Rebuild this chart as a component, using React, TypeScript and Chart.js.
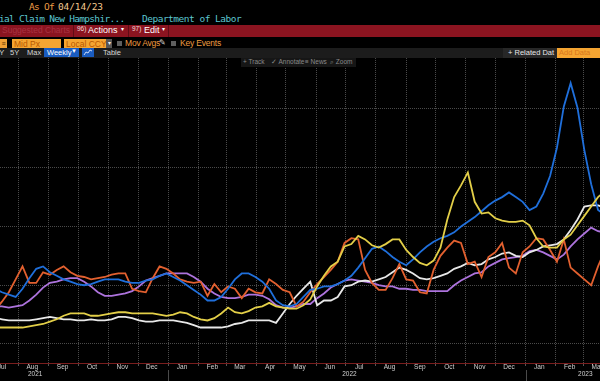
import React, { useEffect, useRef } from "react";
import { Chart, registerables } from "chart.js";

Chart.register(...registerables);

// ---------- data ----------
const firstWeek = "2021-07-08"; // weekly observations, one every 7 days
const viewStart = "2021-07-13";
const viewEnd = "2023-03-18";
const firstMonth = "2021-07-01";
const monthNames = ["Jul", "Aug", "Sep", "Oct", "Nov", "Dec", "Jan", "Feb", "Mar", "Apr", "May", "Jun", "Jul", "Aug", "Sep", "Oct", "Nov", "Dec", "Jan", "Feb", "Mar", "Apr"];
const yearNames = ["2021", "2022", "2023"];
const yearLabelDates = ["2021-08-18", "2022-07-05", "2023-03-03"];
const yearBreaks = ["2022-01-01", "2023-01-01"];
const gridValues = [50, 100, 150, 200, 250];
const yMin = 33.8;
const yMax = 293.4;

const blueSeries = [97, 94, 92, 90, 97, 106, 114, 116, 111, 108, 105, 103, 101, 100, 101, 103, 105, 105, 105, 103, 102, 102, 104, 105, 108, 110, 107, 104, 100, 96, 92, 87, 87, 90, 97, 105, 110, 110, 107, 103, 97, 87, 83, 82, 84, 90, 96, 97, 99, 99, 101, 104, 108, 115, 123, 131, 133, 129, 124, 120, 117, 122, 128, 133, 137, 140, 142, 145, 150, 154, 158, 163, 168, 172, 175, 179, 175, 171, 164, 167, 178, 193, 217, 252, 272, 251, 215, 186, 164, 160];
const orangeSeries = [79, 86, 94, 105, 116, 102, 102, 111, 109, 113, 116, 111, 108, 107, 105, 106, 107, 109, 110, 110, 97, 95, 94, 106, 116, 114, 110, 105, 103, 102, 103, 91, 101, 94, 99, 97, 89, 97, 94, 93, 105, 101, 96, 94, 82, 86, 94, 101, 107, 113, 120, 136, 140, 139, 113, 102, 96, 96, 106, 118, 105, 104, 94, 93, 113, 125, 132, 138, 136, 118, 120, 107, 124, 128, 136, 115, 110, 128, 133, 140, 139, 130, 120, 139, 115, 110, 105, 100, 116, 130];
const yellowSeries = [64, 64, 64, 64, 64, 65, 66, 67, 69, 71, 74, 76, 76, 76, 74, 74, 75, 76, 77, 77, 76, 76, 76, 76, 75, 74, 75, 77, 76, 73, 71, 70, 72, 76, 81, 77, 76, 78, 81, 82, 85, 82, 81, 80, 80, 83, 88, 99, 108, 116, 120, 133, 135, 142, 139, 134, 132, 135, 139, 139, 130, 124, 119, 117, 121, 132, 156, 175, 185, 196, 171, 161, 162, 157, 155, 154, 154, 155, 151, 140, 133, 132, 132, 139, 143, 151, 159, 167, 175, 180];
const whiteSeries = [72, 71, 70, 70, 70, 70, 71, 72, 73, 72, 71, 71, 70, 70, 71, 70, 70, 71, 73, 73, 72, 70, 69, 69, 70, 70, 70, 69, 68, 66, 64, 64, 64, 64, 65, 67, 68, 70, 70, 70, 70, 68, 76, 84, 91, 97, 103, 83, 87, 87, 90, 99, 100, 103, 104, 103, 105, 107, 111, 115, 113, 110, 106, 105, 106, 108, 110, 114, 116, 119, 117, 118, 122, 124, 127, 128, 125, 124, 128, 130, 133, 134, 135, 139, 147, 156, 167, 168, 168, 166];
const purpleSeries = [82, 82, 81, 82, 83, 87, 92, 98, 102, 103, 105, 106, 106, 103, 99, 94, 91, 91, 92, 93, 95, 99, 104, 106, 108, 110, 110, 110, 110, 107, 103, 97, 93, 90, 89, 89, 90, 92, 92, 91, 88, 83, 81, 81, 82, 84, 84, 89, 93, 98, 101, 104, 105, 104, 103, 102, 100, 99, 99, 97, 97, 96, 96, 95, 95, 95, 95, 100, 104, 107, 110, 111, 116, 119, 122, 123, 124, 125, 129, 130, 128, 125, 122, 126, 133, 139, 144, 149, 146, 145];

// ---------- helpers ----------
const DAY = 86400000;
const origin = Date.parse(firstMonth);
const dayOf = (s: string) => (Date.parse(s) - origin) / DAY;
const monthDay = (i: number, d: number) => {
  const o = new Date(origin);
  return (Date.UTC(o.getUTCFullYear(), o.getUTCMonth() + i, d) - origin) / DAY;
};
const toPoints = (arr: number[]) => {
  const start = dayOf(firstWeek);
  return arr.map((v, i) => ({ x: start + 7 * i, y: v }));
};

const mono = '"DejaVu Sans Mono", "Liberation Mono", monospace';
const sans = '"Liberation Sans", Arial, sans-serif';

const axisLabelPlugin = {
  id: "bbgAxisLabels",
  afterDraw(chart: any) {
    const { ctx, chartArea, scales } = chart;
    const xs = scales.x;
    const base = chartArea.bottom;
    ctx.save();
    ctx.fillStyle = "#d0d0d0";
    ctx.font = `6.5px ${sans}`;
    ctx.textAlign = "center";
    ctx.textBaseline = "middle";
    monthNames.forEach((name, i) => {
      ctx.fillText(name, xs.getPixelForValue(monthDay(i, 15)), base + 4.5);
    });
    yearNames.forEach((name, i) => {
      ctx.fillText(name, xs.getPixelForValue(dayOf(yearLabelDates[i])), base + 11.5);
    });
    ctx.strokeStyle = "#4a4a4a";
    ctx.lineWidth = 1;
    yearBreaks.forEach((d) => {
      const px = Math.round(xs.getPixelForValue(dayOf(d))) + 0.5;
      ctx.beginPath();
      ctx.moveTo(px, base + 7);
      ctx.lineTo(px, chart.height);
      ctx.stroke();
    });
    ctx.restore();
  },
};

function ChartCanvas() {
  const ref = useRef<HTMLCanvasElement | null>(null);
  useEffect(() => {
    if (!ref.current) return;
    const xMin = dayOf(viewStart);
    const xMax = dayOf(viewEnd);
    const monthStarts: number[] = [];
    for (let i = 0; i <= monthNames.length; i++) {
      const v = monthDay(i, 1);
      if (v > xMin && v < xMax) monthStarts.push(v);
    }
    const mk = (label: string, data: number[], color: string) => ({
      label,
      data: toPoints(data),
      borderColor: color,
      backgroundColor: color,
      borderWidth: 1.8,
      pointRadius: 0,
      tension: 0,
      fill: false,
    });
    const chart = new Chart(ref.current, {
      type: "line",
      data: {
        datasets: [
          mk("Yellow", yellowSeries, "#e3cf48"),
          mk("Blue", blueSeries, "#1f6fdb"),
          mk("Orange", orangeSeries, "#e2602f"),
          mk("White", whiteSeries, "#e8e8e8"),
          mk("Purple", purpleSeries, "#ad73dd"),
        ],
      },
      options: {
        animation: false,
        responsive: false,
        maintainAspectRatio: false,
        devicePixelRatio: 1,
        layout: { padding: { left: 0, right: 0, top: 0, bottom: 15 } },
        plugins: { legend: { display: false }, tooltip: { enabled: false } },
        scales: {
          x: {
            type: "linear",
            min: xMin,
            max: xMax,
            position: "bottom",
            afterBuildTicks: (s: any) => {
              s.ticks = monthStarts.map((v) => ({ value: v }));
            },
            ticks: { display: false },
            grid: { color: "#4a4a4a", lineWidth: 1, drawTicks: true, tickLength: 3, tickColor: "#555" },
            border: { display: true, color: "#7a1e1e", width: 1, dash: [1, 1] },
          },
          y: {
            type: "linear",
            min: yMin,
            max: yMax,
            position: "right",
            afterBuildTicks: (s: any) => {
              s.ticks = gridValues.map((v) => ({ value: v }));
            },
            ticks: { display: false },
            grid: { color: "#4a4a4a", lineWidth: 1, drawTicks: false },
            border: { display: false, dash: [1, 1] },
          },
        },
      },
      plugins: [axisLabelPlugin],
    } as any);
    return () => chart.destroy();
  }, []);
  return (
    <canvas
      ref={ref}
      width={600}
      height={323}
      style={{ position: "absolute", left: 0, top: 58, width: 600, height: 323, display: "block" }}
    />
  );
}

const abs = (s: React.CSSProperties): React.CSSProperties => ({ position: "absolute", whiteSpace: "pre", ...s });

export default function App() {
  return (
    <div style={{ position: "fixed", left: 0, top: 0, width: 600, height: 381, background: "#000", overflow: "hidden" }}>
      <ChartCanvas />

      {/* title lines */}
      <div style={abs({ left: 29, top: 1, font: `9.5px ${mono}`, lineHeight: "11px", color: "#ee9c45", letterSpacing: "-0.7px" })}>As Of</div>
      <div style={abs({ left: 58, top: 1, font: `9.5px ${mono}`, lineHeight: "11px", color: "#f3c88e", letterSpacing: "-0.1px" })}>04/14/23</div>
      <div style={abs({ left: -1, top: 13, font: `9.5px ${mono}`, lineHeight: "11px", color: "#5cc6d0", letterSpacing: "-0.7px" })}>ial Claim New Hampshir...</div>
      <div style={abs({ left: 142, top: 13, font: `9.5px ${mono}`, lineHeight: "11px", color: "#5cc6d0", letterSpacing: "-0.5px" })}>Department of Labor</div>

      {/* red band */}
      <div style={abs({ left: 0, top: 25, width: 600, height: 12, background: "#8b1420" })} />
      <div style={abs({ left: 2, top: 25, height: 12, lineHeight: "12px", font: `8.5px ${sans}`, color: "#a83240" })}>Suggested Charts</div>
      <div style={abs({ left: 73, top: 25, width: 1, height: 12, background: "#5e0c15" })} />
      <div style={abs({ left: 77, top: 25, height: 12, lineHeight: "12px", font: `6.5px ${sans}`, color: "#f2dcdc" })}>96)</div>
      <div style={abs({ left: 88, top: 25, height: 12, lineHeight: "12px", font: `9px ${sans}`, color: "#ffffff" })}>Actions</div>
      <div style={abs({ left: 121, top: 25, height: 12, lineHeight: "12px", font: `6px ${sans}`, color: "#ffffff" })}>▾</div>
      <div style={abs({ left: 128, top: 25, width: 1, height: 12, background: "#5e0c15" })} />
      <div style={abs({ left: 132, top: 25, height: 12, lineHeight: "12px", font: `6.5px ${sans}`, color: "#f2dcdc" })}>97)</div>
      <div style={abs({ left: 144, top: 25, height: 12, lineHeight: "12px", font: `9px ${sans}`, color: "#ffffff" })}>Edit</div>
      <div style={abs({ left: 162, top: 25, height: 12, lineHeight: "12px", font: `6px ${sans}`, color: "#ffffff" })}>▾</div>
      <div style={abs({ left: 168, top: 25, width: 1, height: 12, background: "#5e0c15" })} />

      {/* field row */}
      <div style={abs({ left: 0, top: 39, width: 7, height: 9, background: "#f0a035", color: "#5a3000", font: `7px ${sans}`, lineHeight: "9px", textAlign: "center" })}>≡</div>
      <div style={abs({ left: 12, top: 39, width: 49, height: 9, background: "#f5a532" })} />
      <div style={abs({ left: 14, top: 39, height: 9, lineHeight: "9px", font: `8.5px ${sans}`, color: "#b85800" })}>Mid Px</div>
      <div style={abs({ left: 64, top: 39, width: 42, height: 9, background: "#f5a532" })} />
      <div style={abs({ left: 66, top: 39, height: 9, lineHeight: "9px", font: `8.5px ${sans}`, color: "#b85800" })}>Local CCY</div>
      <div style={abs({ left: 106, top: 39, width: 6, height: 9, background: "#555", color: "#eee", font: `6px ${sans}`, lineHeight: "9px", textAlign: "center" })}>▾</div>
      <div style={abs({ left: 117, top: 41, width: 5, height: 5, background: "#5f5f5f" })} />
      <div style={abs({ left: 125, top: 38, height: 10, lineHeight: "10px", font: `8.5px ${sans}`, color: "#ee9c40", letterSpacing: "-0.2px" })}>Mov Avgs</div>
      <div style={abs({ left: 159, top: 38, height: 10, lineHeight: "10px", font: `8px ${sans}`, color: "#cfcfcf" })}>✎</div>
      <div style={abs({ left: 171, top: 41, width: 5, height: 5, background: "#5f5f5f" })} />
      <div style={abs({ left: 180, top: 38, height: 10, lineHeight: "10px", font: `8.5px ${sans}`, color: "#ee9c40", letterSpacing: "-0.2px" })}>Key Events</div>

      {/* toolbar */}
      <div style={abs({ left: 0, top: 48, width: 600, height: 10, background: "#1c1c1c" })} />
      <div style={abs({ left: -5, top: 48, height: 10, lineHeight: "10px", font: `7.5px ${sans}`, color: "#d6d6d6" })}>1Y</div>
      <div style={abs({ left: 10, top: 48, height: 10, lineHeight: "10px", font: `7.5px ${sans}`, color: "#d6d6d6" })}>5Y</div>
      <div style={abs({ left: 27, top: 48, height: 10, lineHeight: "10px", font: `7.5px ${sans}`, color: "#d6d6d6" })}>Max</div>
      <div style={abs({ left: 44, top: 48, width: 35, height: 9, background: "#1a5cc0" })} />
      <div style={abs({ left: 47, top: 48, height: 9, lineHeight: "9px", font: `7.5px ${sans}`, color: "#ffffff" })}>Weekly</div>
      <div style={abs({ left: 71, top: 48, height: 9, lineHeight: "9px", font: `6px ${sans}`, color: "#ffffff" })}>▼</div>
      <div style={abs({ left: 82, top: 48, width: 12, height: 9, background: "#1a5cc0" })}>
        <svg width="12" height="9" style={{ display: "block" }}>
          <polyline points="2,7 4,4 6,5 8,2 10,3" fill="none" stroke="#dfe9ff" strokeWidth="0.9" />
        </svg>
      </div>
      <div style={abs({ left: 103, top: 48, height: 10, lineHeight: "10px", font: `7.5px ${sans}`, color: "#d6d6d6" })}>Table</div>
      <div style={abs({ left: 503, top: 48, width: 54, height: 10, background: "#272727" })} />
      <div style={abs({ left: 508, top: 48, height: 10, lineHeight: "10px", font: `7.5px ${sans}`, color: "#e6e6e6" })}>+ Related Dat</div>
      <div style={abs({ left: 557, top: 48, width: 43, height: 10, background: "#f5a532" })} />
      <div style={abs({ left: 559, top: 48, height: 10, lineHeight: "10px", font: `7.5px ${sans}`, color: "#d8761a" })}>Add Data</div>

      {/* floating chart toolbar */}
      <div style={abs({ left: 241, top: 58, width: 115, height: 9, background: "#161616" })} />
      <div style={abs({ left: 243, top: 58, height: 9, lineHeight: "9px", font: `6.5px ${sans}`, color: "#8a8a8a" })}>+ Track</div>
      <div style={abs({ left: 271, top: 58, height: 9, lineHeight: "9px", font: `6.5px ${sans}`, color: "#8a8a8a" })}>✓ Annotate</div>
      <div style={abs({ left: 305, top: 58, height: 9, lineHeight: "9px", font: `6.5px ${sans}`, color: "#8a8a8a" })}>≡ News</div>
      <div style={abs({ left: 330, top: 58, height: 9, lineHeight: "9px", font: `6.5px ${sans}`, color: "#8a8a8a" })}>⌕ Zoom</div>
    </div>
  );
}
